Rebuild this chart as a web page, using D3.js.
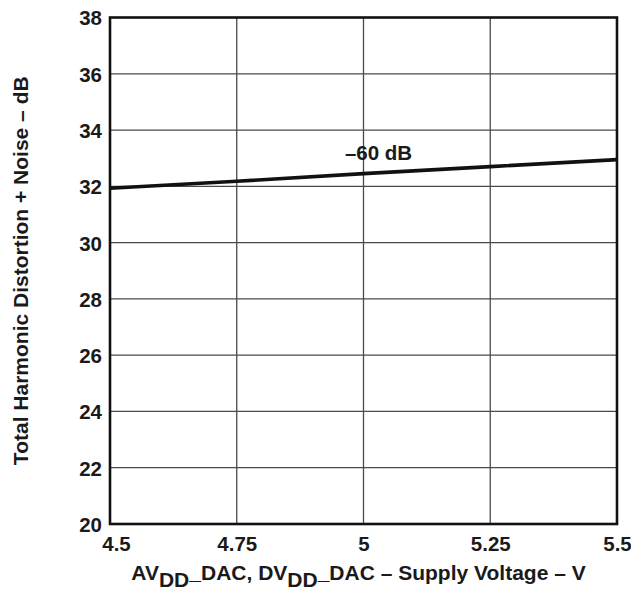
<!DOCTYPE html>
<html>
<head>
<meta charset="utf-8">
<script src="https://cdn.jsdelivr.net/npm/d3@7"></script>
<style>
  html, body { margin: 0; padding: 0; background: #fff; }
  svg { display: block; }
  text { font-family: "Liberation Sans", Arial, Helvetica, sans-serif; font-weight: bold; fill: #1a1a1a; }
</style>
</head>
<body>
<svg id="chart" width="631" height="590"></svg>
<script>
// Supply voltage (V) and measured THD+N (dB) at -60 dB input
const voltage = [4.5, 4.75, 5.0, 5.25, 5.5];
const thdn = [31.93, 32.18, 32.45, 32.70, 32.95];
const seriesLabel = "\u201360 dB";

const xTicks = [4.5, 4.75, 5.0, 5.25, 5.5];
const xTickLabels = ["4.5", "4.75", "5", "5.25", "5.5"];
const yTicks = [20, 22, 24, 26, 28, 30, 32, 34, 36, 38];

const svg = d3.select("#chart");
const margin = { left: 110, top: 17.5, right: 14, bottom: 66 };
const W = 631, H = 590;
const x = d3.scaleLinear().domain([4.5, 5.5]).range([margin.left, W - margin.right]);
const y = d3.scaleLinear().domain([20, 38]).range([H - margin.bottom, margin.top]);

// grid
const grid = svg.append("g").attr("stroke", "#4a4a4a").attr("stroke-width", 1.3);
grid.selectAll("line.v").data(xTicks.slice(1, -1)).join("line")
  .attr("x1", d => x(d)).attr("x2", d => x(d))
  .attr("y1", y(20)).attr("y2", y(38));
grid.selectAll("line.h").data(yTicks.slice(1, -1)).join("line")
  .attr("x1", x(4.5)).attr("x2", x(5.5))
  .attr("y1", d => y(d)).attr("y2", d => y(d));

// data line
svg.append("path")
  .datum(voltage.map((v, i) => [v, thdn[i]]))
  .attr("fill", "none").attr("stroke", "#111").attr("stroke-width", 3.6)
  .attr("d", d3.line().x(d => x(d[0])).y(d => y(d[1])));

// frame
svg.append("rect")
  .attr("x", x(4.5)).attr("y", y(38))
  .attr("width", x(5.5) - x(4.5)).attr("height", y(20) - y(38))
  .attr("fill", "none").attr("stroke", "#111").attr("stroke-width", 2.6);

// axes labels
const yAxis = d3.axisLeft(y).tickValues(yTicks).tickSize(0).tickPadding(8);
const gy = svg.append("g").attr("transform", `translate(${x(4.5)},0)`).call(yAxis);
gy.select(".domain").remove();
gy.selectAll("text").attr("font-size", 20.5).attr("font-family", null).attr("dy", "0.36em");

const xAxis = d3.axisBottom(x).tickValues(xTicks).tickFormat((d, i) => xTickLabels[i]).tickSize(0).tickPadding(12);
const gx = svg.append("g").attr("transform", `translate(0,${y(20)})`).call(xAxis);
gx.select(".domain").remove();
gx.selectAll("text").attr("font-size", 20.5).attr("font-family", null)
  .attr("dx", (d, i) => i === 0 ? 6 : 0);

// series label
svg.append("text")
  .attr("x", x(5.0) + 15).attr("y", 160)
  .attr("text-anchor", "middle").attr("font-size", 20.5)
  .text(seriesLabel);

// y title
svg.append("text")
  .attr("transform", `translate(28,${(y(20) + y(38)) / 2}) rotate(-90)`)
  .attr("text-anchor", "middle").attr("font-size", 21)
  .text("Total Harmonic Distortion + Noise \u2013 dB");

// x title with subscripts
const xt = svg.append("text")
  .attr("x", (x(4.5) + x(5.5)) / 2 - 5).attr("y", 580)
  .attr("text-anchor", "middle").attr("font-size", 21);
xt.append("tspan").text("AV");
xt.append("tspan").attr("dy", 7).text("DD");
xt.append("tspan").attr("dy", -8).text("_");
xt.append("tspan").attr("dy", 1).text("DAC, DV");
xt.append("tspan").attr("dy", 7).text("DD");
xt.append("tspan").attr("dy", -8).text("_");
xt.append("tspan").attr("dy", 1).text("DAC \u2013 Supply Voltage \u2013 V");
</script>
</body>
</html>
